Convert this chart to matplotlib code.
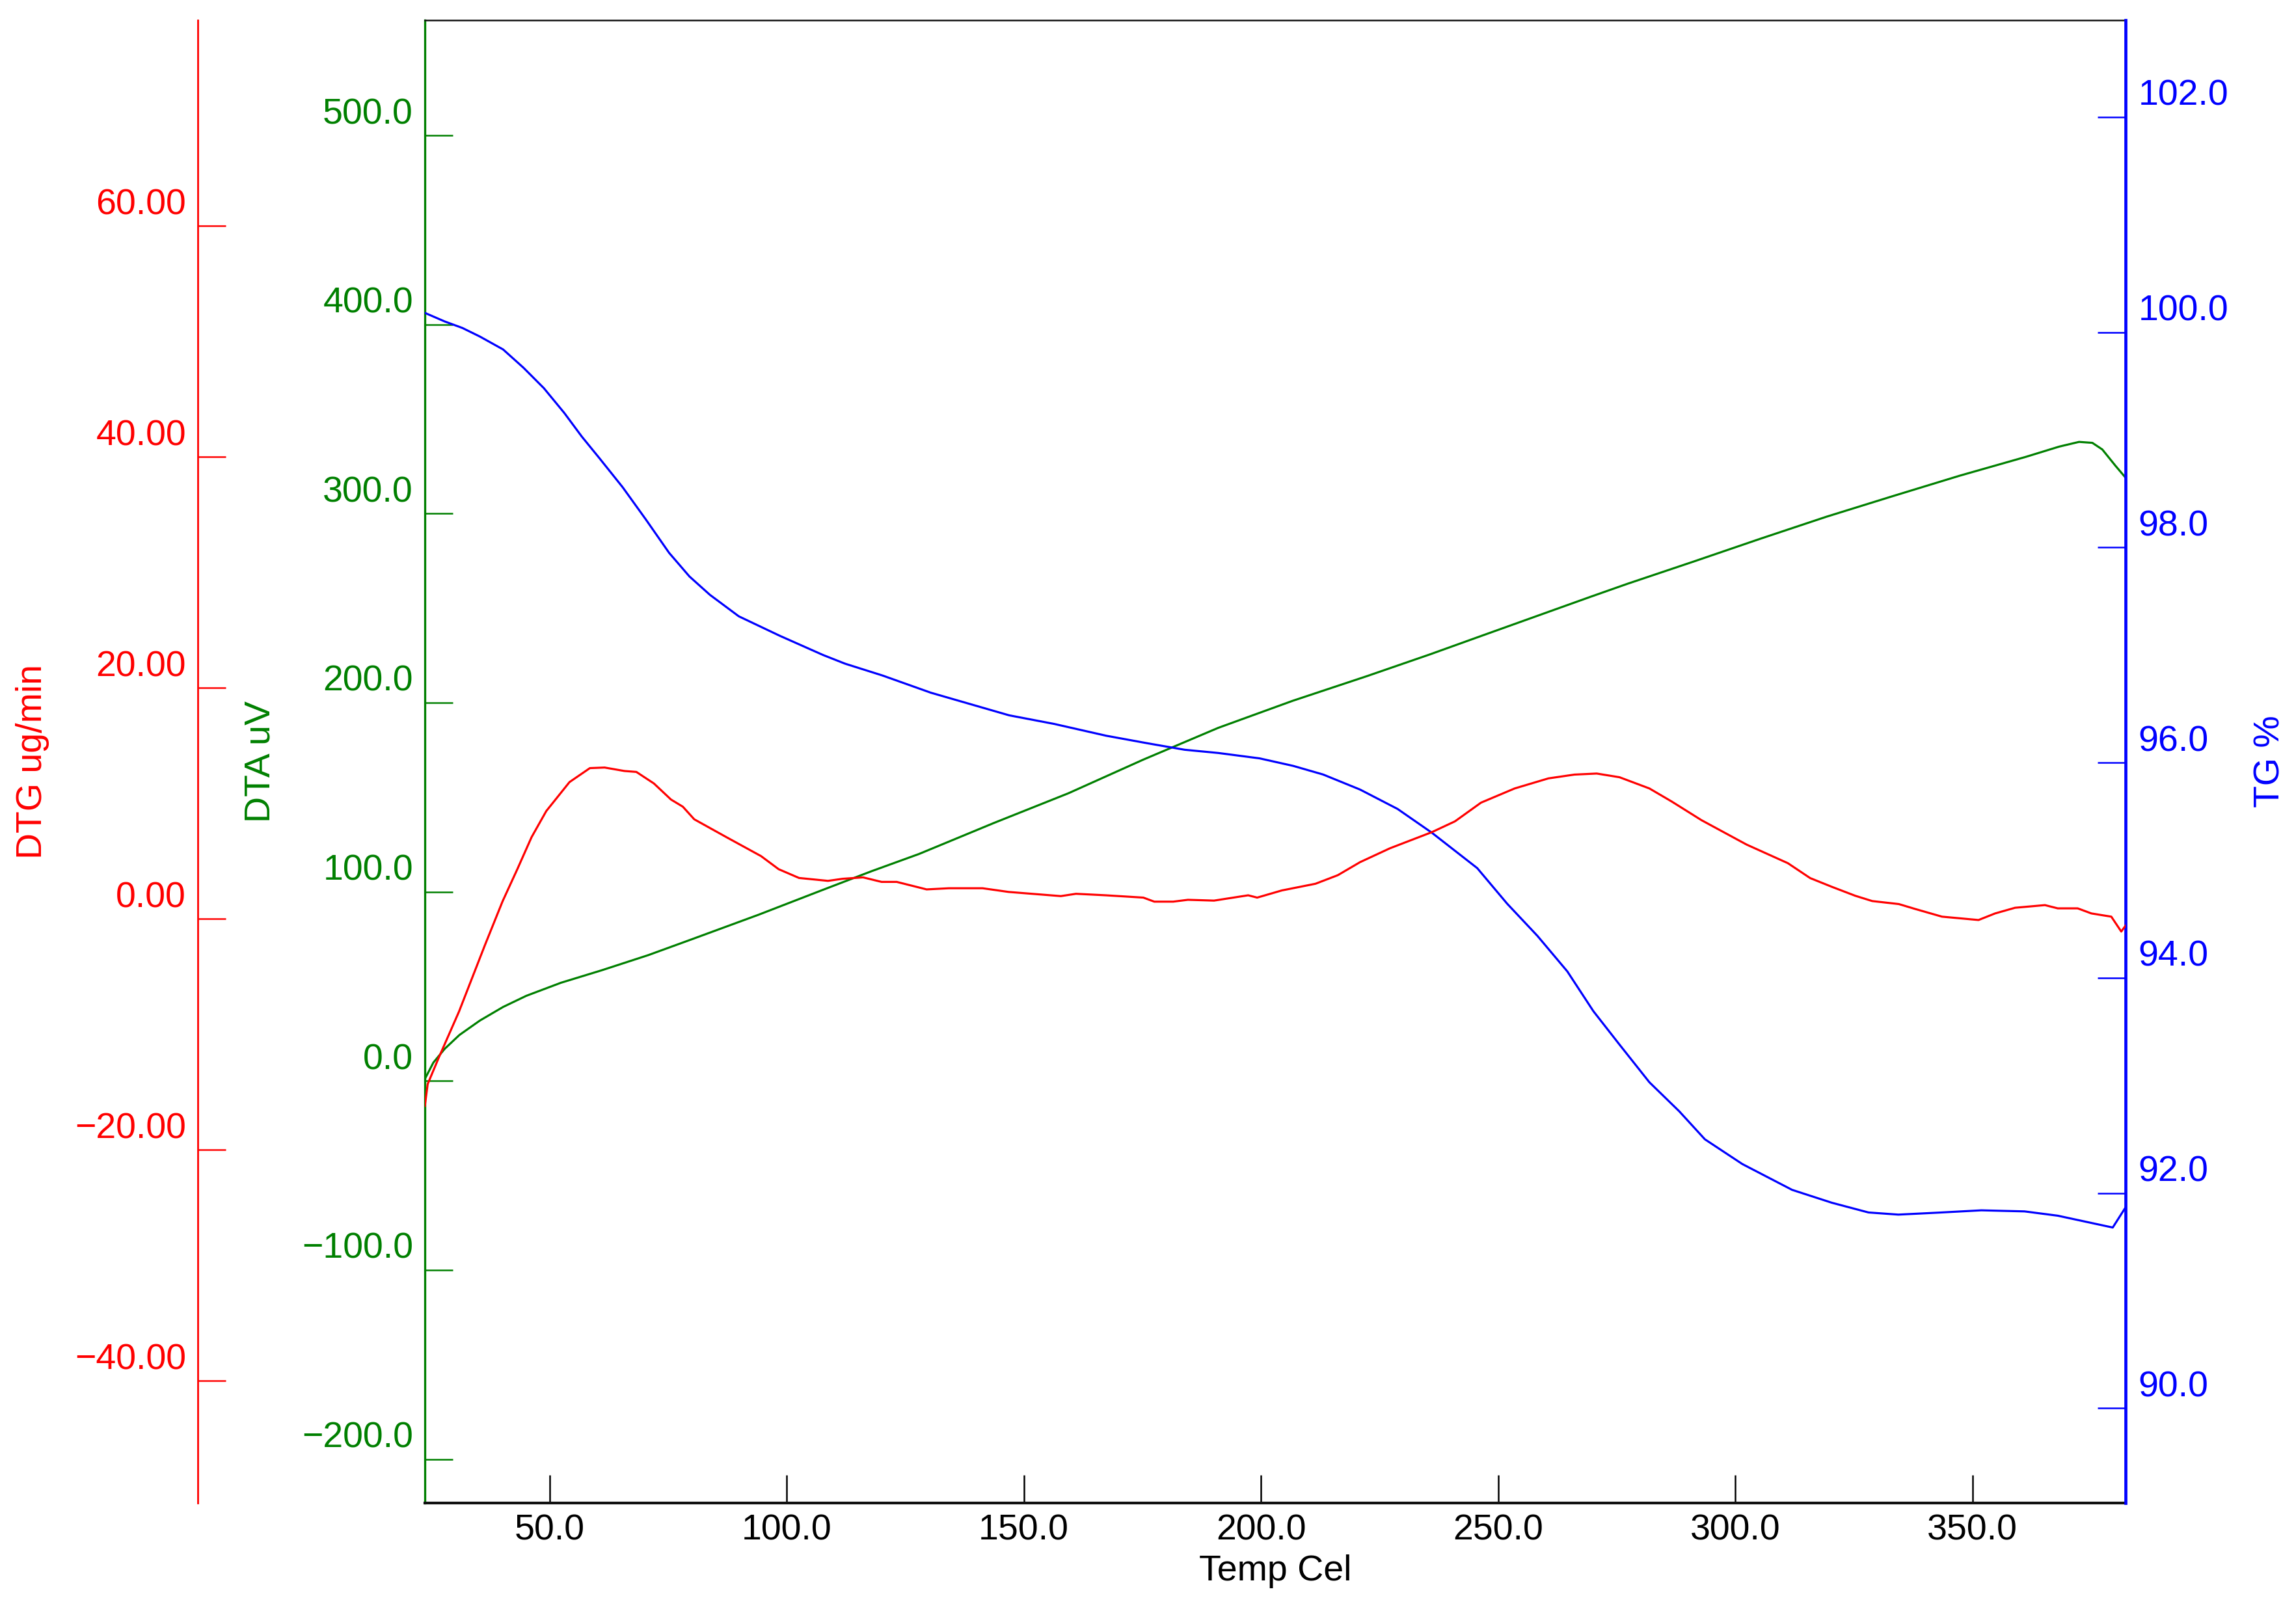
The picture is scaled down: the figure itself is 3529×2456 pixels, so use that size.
import matplotlib
matplotlib.use("Agg")
import matplotlib.pyplot as plt
import matplotlib.transforms as mtransforms
from matplotlib.ticker import FuncFormatter

plt.rcParams['font.family'] = ['Liberation Sans', 'DejaVu Sans']

# TG curve (%)
tg_temp = [23.7, 27.9, 31.6, 35.3, 40.2, 44.5, 48.8, 53.1, 56.8, 60.5, 65.4, 70.3,
           75.2, 79.5, 83.8, 89.9, 98.5, 107.7, 112.3, 120.2, 130.4, 135.9, 146.9,
           156.4, 167.4, 176.1, 183.9, 191.0, 199.7, 206.8, 213.1, 220.9, 228.8,
           236.0, 245.6, 251.9, 258.3, 264.6, 270.1, 275.6, 281.9, 288.2, 293.6,
           301.5, 312.0, 320.4, 328.1, 334.4, 343.5, 351.9, 361.0, 368.0, 379.6, 382.2]
tg_pct = [100.18, 100.10, 100.04, 99.96, 99.84, 99.67, 99.48, 99.25, 99.03, 98.83,
          98.56, 98.26, 97.95, 97.73, 97.56, 97.36, 97.18, 97.00, 96.92, 96.81,
          96.65, 96.58, 96.44, 96.36, 96.25, 96.18, 96.12, 96.09, 96.04, 95.97,
          95.89, 95.75, 95.57, 95.35, 95.02, 94.69, 94.39, 94.06, 93.69, 93.38,
          93.03, 92.76, 92.50, 92.27, 92.03, 91.91, 91.82, 91.80, 91.82, 91.84,
          91.83, 91.79, 91.68, 91.86]

# DTG curve (ug/min)
dtg_temp = [23.7, 24.3, 26.6, 30.9, 36.4, 40.1, 43.2, 46.2, 49.3, 54.2, 58.5, 61.6,
            65.8, 68.3, 72.0, 75.6, 78.1, 80.5, 87.3, 94.6, 98.3, 102.6, 108.7,
            111.8, 116.1, 120.0, 123.2, 129.5, 134.2, 141.3, 146.8, 157.8, 161.0,
            167.3, 175.2, 177.5, 181.5, 184.6, 190.1, 197.3, 199.2, 204.4, 211.5,
            216.2, 220.9, 227.2, 236.0, 240.9, 246.4, 253.5, 260.6, 266.1, 270.8,
            275.6, 281.9, 286.6, 292.9, 302.4, 311.1, 315.8, 320.4, 325.3, 328.9,
            334.5, 338.0, 343.6, 351.3, 354.8, 359.0, 365.3, 368.0, 372.2, 375.1,
            379.3, 381.4, 382.4]
dtg_val = [-16.2, -14.3, -12.05, -8.03, -2.24, 1.53, 4.30, 7.07, 9.33, 11.84, 13.05,
           13.10, 12.80, 12.72, 11.72, 10.33, 9.71, 8.62, 7.07, 5.43, 4.30, 3.54,
           3.29, 3.47, 3.59, 3.20, 3.20, 2.55, 2.65, 2.65, 2.33, 1.97, 2.17, 2.04,
           1.84, 1.49, 1.49, 1.65, 1.58, 2.04, 1.84, 2.46, 3.04, 3.78, 4.91, 6.11,
           7.50, 8.44, 10.06, 11.29, 12.16, 12.49, 12.58, 12.26, 11.29, 10.16, 8.54,
           6.43, 4.82, 3.53, 2.77, 2.00, 1.54, 1.28, 0.85, 0.19, -0.10, 0.47, 0.96,
           1.19, 0.91, 0.91, 0.47, 0.19, -1.10, -0.53]

# DTA curve (uV)
dta_temp = [23.7, 25.5, 27.9, 31.0, 35.3, 40.2, 45.1, 52.4, 61.0, 70.8, 80.0, 94.1,
            107.6, 117.9, 127.9, 143.7, 159.4, 175.2, 191.0, 206.7, 222.3, 235.7,
            245.9, 269.5, 277.2, 291.2, 305.2, 319.2, 333.2, 347.3, 361.3, 368.3,
            372.5, 375.3, 377.4, 380.2, 382.3]
dta_val = [1.0, 9.7, 17.0, 24.3, 31.9, 39.1, 45.0, 51.9, 58.5, 66.5, 74.9, 87.9,
           101.0, 110.9, 120.0, 136.4, 152.1, 169.9, 186.7, 201.0, 214.0, 225.6,
           234.8, 256.0, 262.8, 274.6, 286.6, 298.3, 309.2, 320.0, 330.0, 335.4,
           337.9, 337.4, 333.9, 325.2, 319.0]

temp_ticks = [50, 100, 150, 200, 250, 300, 350]
dta_ticks = [-200, -100, 0, 100, 200, 300, 400, 500]
dtg_ticks = [-40, -20, 0, 20, 40, 60]
tg_ticks = [90, 92, 94, 96, 98, 100, 102]

RED = '#ff0000'
GREEN = '#008000'
BLUE = '#0000ff'
FS = 40
TICK_LEN = 31
TICK_W = 1.8
LW = 2.3


def fmt(nd):
    return FuncFormatter(lambda v, p: f"{v:.{nd}f}".replace('-', '\u2212'))


def lift(axis, dy_px):
    # tick labels sit above their tick marks in the original
    off = mtransforms.ScaledTranslation(0, dy_px / 100.0, fig.dpi_scale_trans)
    for t in axis.get_major_ticks():
        t.label1.set_transform(t.label1.get_transform() + off)
        t.label2.set_transform(t.label2.get_transform() + off)


fig = plt.figure(figsize=(35.3, 24.56), dpi=100)
W, H = 3530, 2456
ax = fig.add_axes([653 / W, (H - 2310) / H, 2614 / W, 2279 / H])
ax_tg = ax.twinx()
ax_dtg = ax.twinx()

# DTA on the main axes (green, left)
ax.plot(dta_temp, dta_val, color=GREEN, lw=LW)
ax.set_xlim(23.7, 382.3)
ax.set_ylim(-223.2, 560.9)
ax.set_xticks(temp_ticks)
ax.xaxis.set_major_formatter(fmt(1))
ax.set_yticks(dta_ticks)
ax.yaxis.set_major_formatter(fmt(1))
ax.tick_params(axis='x', direction='in', length=TICK_LEN, width=TICK_W,
               colors='black', labelsize=FS, pad=12)
ax.tick_params(axis='y', direction='in', length=TICK_LEN, width=TICK_W,
               colors=GREEN, labelsize=FS, pad=13)
ax.spines['left'].set_color(GREEN)
ax.spines['left'].set_linewidth(2.4)
ax.spines['right'].set_visible(False)
ax.spines['top'].set_color('#111111')
ax.spines['top'].set_linewidth(1.8)
ax.spines['bottom'].set_color('#111111')
ax.spines['bottom'].set_linewidth(3.0)
ax.set_xlabel('Temp Cel', fontsize=FS, color='black', va='top')
ax.xaxis.set_label_coords(0.5, (2310 - 2389) / 2279)
ax.set_ylabel('DTA uV', fontsize=FS, color=GREEN, va='center')
ax.yaxis.set_label_coords((401 - 653) / 2614, 0.5)
lift(ax.yaxis, 38)

# TG on the right (blue)
ax_tg.plot(tg_temp, tg_pct, color=BLUE, lw=LW)
ax_tg.set_ylim(89.12, 102.90)
ax_tg.set_yticks(tg_ticks)
ax_tg.yaxis.set_major_formatter(fmt(1))
ax_tg.tick_params(axis='y', direction='in', length=TICK_LEN, width=TICK_W,
                  colors=BLUE, labelsize=FS, pad=14)
for s in ['left', 'top', 'bottom']:
    ax_tg.spines[s].set_visible(False)
ax_tg.spines['right'].set_color(BLUE)
ax_tg.spines['right'].set_linewidth(3.4)
ax_tg.set_ylabel('TG %', fontsize=FS, color=BLUE, va='center', rotation=90)
ax_tg.yaxis.set_label_coords((3490 - 653) / 2614, 0.5)
lift(ax_tg.yaxis, 38)

# DTG on a detached left axis (red)
ax_dtg.plot(dtg_temp, dtg_val, color=RED, lw=LW)
ax_dtg.set_ylim(-50.57, 77.8)
ax_dtg.yaxis.set_ticks_position('left')
ax_dtg.yaxis.set_label_position('left')
ax_dtg.set_yticks(dtg_ticks)
ax_dtg.yaxis.set_major_formatter(fmt(2))
ax_dtg.tick_params(axis='y', direction='in', length=TICK_LEN, width=TICK_W,
                   colors=RED, labelsize=FS, pad=13)
for s in ['right', 'top', 'bottom']:
    ax_dtg.spines[s].set_visible(False)
ax_dtg.spines['left'].set_visible(True)
ax_dtg.spines['left'].set_position(('axes', -(653 - 304) / 2614))
ax_dtg.spines['left'].set_color(RED)
ax_dtg.spines['left'].set_linewidth(2.0)
ax_dtg.set_ylabel('DTG ug/min', fontsize=FS, color=RED, va='center')
ax_dtg.yaxis.set_label_coords((50 - 653) / 2614, 0.5)
lift(ax_dtg.yaxis, 38)

fig.savefig('out.png', dpi=100, facecolor='white')
